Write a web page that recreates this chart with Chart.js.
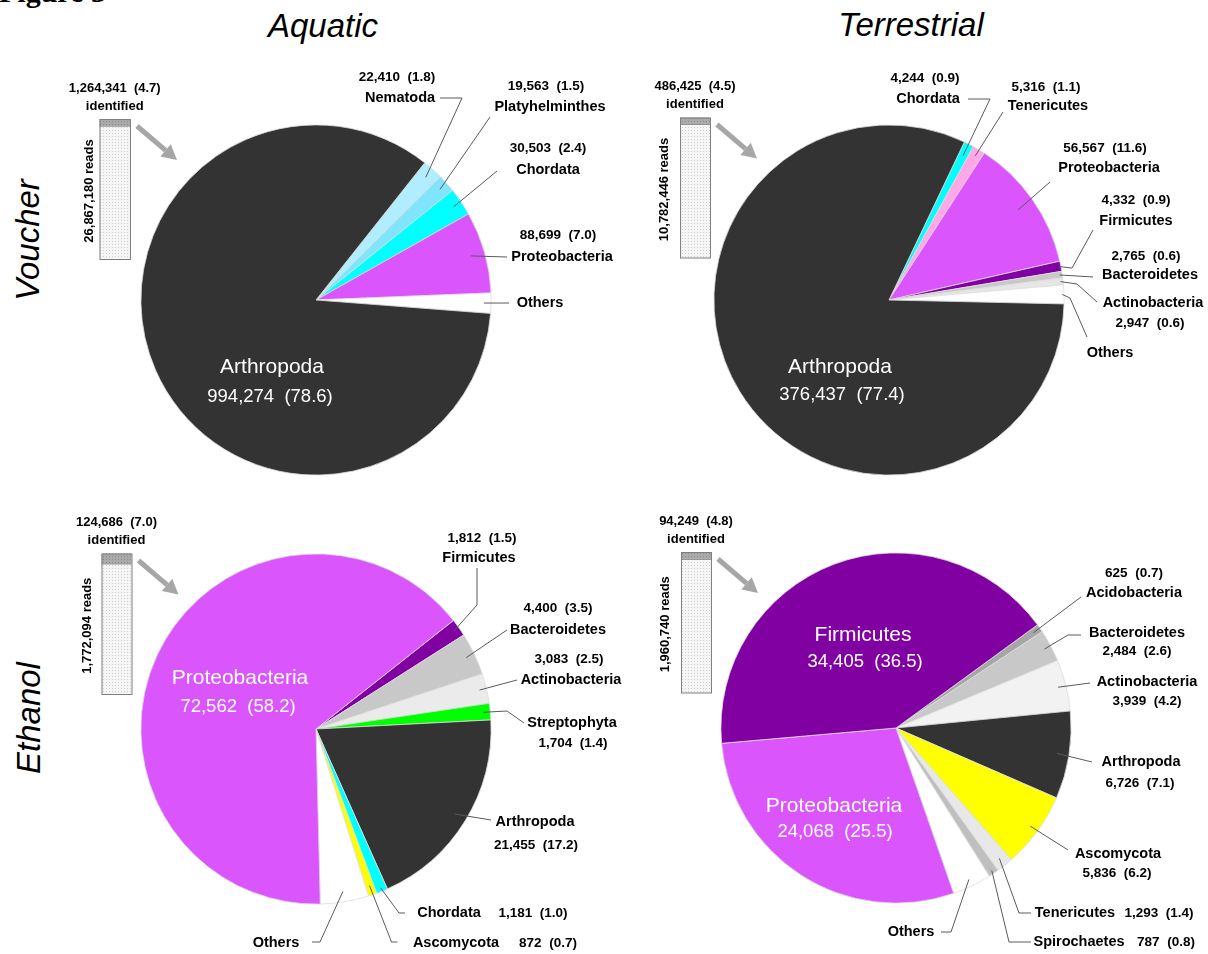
<!DOCTYPE html>
<html>
<head>
<meta charset="utf-8">
<title>Figure 3</title>
<script src="https://cdn.jsdelivr.net/npm/chart.js@4.4.1/dist/chart.umd.min.js"></script>
<style>
  html, body { margin: 0; padding: 0; background: #fff; }
  #fig { position: relative; width: 1208px; height: 954px; overflow: hidden; }
  #fig canvas { position: absolute; left: 0; top: 0; }
  .hdr {
    position: absolute;
    font-family: 'Liberation Sans', Arial, sans-serif;
    font-style: italic;
    font-size: 33px;
    line-height: 33px;
    color: #000;
    white-space: nowrap;
    transform: translate(-50%, -50%);
  }
  .hdr.rot { transform: translate(-50%, -50%) rotate(-90deg); }
  .fig-no {
    position: absolute; left: -1px; top: -23px;
    font-family: 'Liberation Serif', 'DejaVu Serif', serif;
    font-weight: bold; font-size: 30px; line-height: 30px;
  }
</style>
</head>
<body>
<div id="fig">
  <div class="fig-no">Figure 3</div>
  <div class="hdr" style="left:323px;top:25px">Aquatic</div>
  <div class="hdr" style="left:911px;top:24px">Terrestrial</div>
  <div class="hdr rot" style="left:27px;top:240px">Voucher</div>
  <div class="hdr rot" style="left:28px;top:718px">Ethanol</div>
  <canvas id="aqVoucher" width="1208" height="954"></canvas>
  <canvas id="teVoucher" width="1208" height="954"></canvas>
  <canvas id="aqEthanol" width="1208" height="954"></canvas>
  <canvas id="teEthanol" width="1208" height="954"></canvas>
</div>
<script>
// ---- data (reads per taxon, share of identified reads in %) ----
// "Others" is not printed in the figure; its size is estimated from the slice.
const aqVoucherTaxa = ['Nematoda', 'Platyhelminthes', 'Chordata', 'Proteobacteria', 'Others', 'Arthropoda'];
const aqVoucherReads = [22410, 19563, 30503, 88699, 22000, 994274];
const aqVoucherPct = ['1.8', '1.5', '2.4', '7.0', '', '78.6'];

const teVoucherTaxa = ['Chordata', 'Tenericutes', 'Proteobacteria', 'Firmicutes', 'Bacteroidetes', 'Actinobacteria', 'Others', 'Arthropoda'];
const teVoucherReads = [4244, 5316, 56567, 4332, 2765, 2947, 8000, 376437];
const teVoucherPct = ['0.9', '1.1', '11.6', '0.9', '0.6', '0.6', '', '77.4'];

const aqEthanolTaxa = ['Firmicutes', 'Bacteroidetes', 'Actinobacteria', 'Streptophyta', 'Arthropoda', 'Chordata', 'Ascomycota', 'Others', 'Proteobacteria'];
const aqEthanolReads = [1812, 4400, 3083, 1704, 21455, 1181, 872, 5000, 72562];
const aqEthanolPct = ['1.5', '3.5', '2.5', '1.4', '17.2', '1.0', '0.7', '', '58.2'];

const teEthanolTaxa = ['Acidobacteria', 'Bacteroidetes', 'Actinobacteria', 'Arthropoda', 'Ascomycota', 'Tenericutes', 'Spirochaetes', 'Others', 'Proteobacteria', 'Firmicutes'];
const teEthanolReads = [625, 2484, 3939, 6726, 5836, 1293, 787, 3000, 24068, 34405];
const teEthanolPct = ['0.7', '2.6', '4.2', '7.1', '6.2', '1.4', '0.8', '', '25.5', '36.5'];

// total reads per sample and how many of them were identified
const sampleTotalReads = [26867180, 10782446, 1772094, 1960740];
const sampleIdentifiedReads = [1264341, 486425, 124686, 94249];
const sampleIdentifiedPct = ['4.7', '4.5', '7.0', '4.8'];

// ---- colours ----
const aqVoucherColours = ['#b0eeff', '#80e4fb', '#00ffff', '#da55fb', '#ffffff', '#333333'];
const teVoucherColours = ['#00ffff', '#ffa8e6', '#da55fb', '#8000a2', '#c8c8c8', '#e6e6e6', '#ffffff', '#333333'];
const aqEthanolColours = ['#8000a2', '#c8c8c8', '#ebebeb', '#00ff00', '#333333', '#00ffff', '#ffff00', '#ffffff', '#da55fb'];
const teEthanolColours = ['#a6a6a6', '#c8c8c8', '#f2f2f2', '#333333', '#ffff00', '#e8e8e8', '#bfbfbf', '#ffffff', '#da55fb', '#8000a2'];

const FONT = "'Liberation Sans', Arial, sans-serif";
const W = 1208, H = 954;

function fmtCount(n, pct) {
    return n.toLocaleString('en-US') + '  (' + pct + ')';
}

function dotPattern(ctx, bg, dot) {
    const p = document.createElement('canvas');
    p.width = 3; p.height = 3;
    const pc = p.getContext('2d');
    pc.fillStyle = bg;
    pc.fillRect(0, 0, 3, 3);
    pc.fillStyle = dot;
    pc.fillRect(1, 1, 1, 1);
    return ctx.createPattern(p, 'repeat');
}

function drawSideBar(ctx, s, k) {
    const total = sampleTotalReads[k], ident = sampleIdentifiedReads[k];
    const {x, top, w, h} = s;
    const darkH = h * ident / total;

    ctx.fillStyle = dotPattern(ctx, '#f5f5f5', '#cfcfcf');
    ctx.fillRect(x, top, w, h);
    ctx.fillStyle = dotPattern(ctx, '#aaaaaa', '#8c8c8c');
    ctx.fillRect(x, top, w, darkH);
    ctx.strokeStyle = '#7f7f7f';
    ctx.lineWidth = 1;
    ctx.strokeRect(x + 0.5, top + 0.5, w, h);
    ctx.beginPath();
    ctx.moveTo(x, top + darkH + 0.5);
    ctx.lineTo(x + w, top + darkH + 0.5);
    ctx.stroke();

    ctx.fillStyle = '#000';
    ctx.textAlign = 'center';
    ctx.textBaseline = 'middle';
    ctx.font = 'bold 13px ' + FONT;
    ctx.fillText(fmtCount(ident, sampleIdentifiedPct[k]), x + w / 2, top - 31);
    ctx.fillText('identified', x + w / 2, top - 13);

    ctx.save();
    ctx.translate(s.readsX, top + h / 2 + 2);
    ctx.rotate(-Math.PI / 2);
    ctx.fillText(total.toLocaleString('en-US') + ' reads', 0, 0);
    ctx.restore();

    // grey arrow pointing at the pie
    const x0 = x + w + 7, y0 = top + 7, x1 = x + w + 47, y1 = top + 41;
    const a = Math.atan2(y1 - y0, x1 - x0);
    const hl = 15, hw = 8;
    const bx = x1 - Math.cos(a) * hl, by = y1 - Math.sin(a) * hl;
    ctx.strokeStyle = '#a6a6a6';
    ctx.lineWidth = 5;
    ctx.beginPath();
    ctx.moveTo(x0, y0);
    ctx.lineTo(bx, by);
    ctx.stroke();
    ctx.fillStyle = '#a6a6a6';
    ctx.beginPath();
    ctx.moveTo(x1, y1);
    ctx.lineTo(bx + Math.sin(a) * hw, by - Math.cos(a) * hw);
    ctx.lineTo(bx - Math.sin(a) * hw, by + Math.cos(a) * hw);
    ctx.closePath();
    ctx.fill();
}

// labels, leader lines and the side bar, drawn after the pie
const pieNotes = {
    id: 'pieNotes',
    afterDraw(chart, args, opts) {
        const ctx = chart.ctx;
        const arcs = chart.getDatasetMeta(0).data;
        const taxa = chart.data.labels;
        const reads = chart.data.datasets[0].data;
        ctx.save();

        opts.outside.forEach(l => {
            const i = taxa.indexOf(l.taxon);
            const arc = arcs[i].getProps(['x', 'y', 'startAngle', 'endAngle', 'outerRadius'], true);
            const mid = (arc.startAngle + arc.endAngle) / 2;
            const px = arc.x + Math.cos(mid) * arc.outerRadius * l.r;
            const py = arc.y + Math.sin(mid) * arc.outerRadius * l.r;
            ctx.strokeStyle = '#5a5a5a';
            ctx.lineWidth = 1;
            ctx.beginPath();
            ctx.moveTo(px, py);
            l.path.forEach(p => ctx.lineTo(p[0], p[1]));
            ctx.stroke();

            ctx.fillStyle = '#000';
            ctx.textAlign = 'center';
            ctx.textBaseline = 'middle';
            ctx.font = 'bold 14.5px ' + FONT;
            ctx.fillText(l.taxon, l.nameAt[0], l.nameAt[1]);
            if (l.countAt) {
                ctx.font = 'bold 13.5px ' + FONT;
                ctx.fillText(fmtCount(reads[i], opts.pct[i]), l.countAt[0], l.countAt[1]);
            }
        });

        opts.inside.forEach(l => {
            const i = taxa.indexOf(l.taxon);
            ctx.fillStyle = '#fff';
            ctx.textAlign = 'center';
            ctx.textBaseline = 'middle';
            ctx.font = '21px ' + FONT;
            ctx.fillText(l.taxon, l.nameAt[0], l.nameAt[1]);
            ctx.font = '18.5px ' + FONT;
            ctx.fillText(fmtCount(reads[i], opts.pct[i]), l.countAt[0], l.countAt[1]);
        });

        drawSideBar(ctx, opts.bar, opts.sample);
        ctx.restore();
    }
};

function makePie(id, taxa, reads, pct, colours, cx, cy, rotation, notes) {
    const R = 175.5;
    new Chart(document.getElementById(id), {
        type: 'pie',
        data: {
            labels: taxa,
            datasets: [{
                data: reads,
                backgroundColor: colours,
                borderColor: '#dcdcdc',
                borderWidth: 0.8
            }]
        },
        options: {
            responsive: false,
            animation: false,
            events: [],
            rotation: rotation,
            layout: {
                padding: { left: cx - R, top: cy - R, right: W - cx - R, bottom: H - cy - R }
            },
            plugins: {
                legend: { display: false },
                tooltip: { enabled: false },
                pieNotes: Object.assign({ pct: pct }, notes)
            }
        },
        plugins: [pieNotes]
    });
}

makePie('aqVoucher', aqVoucherTaxa, aqVoucherReads, aqVoucherPct, aqVoucherColours, 316, 300, 38.4, {
    sample: 0,
    bar: { x: 99.5, top: 119, w: 30.5, h: 140, readsX: 89.5 },
    outside: [
        { taxon: 'Nematoda', r: 0.94, countAt: [397, 77], nameAt: [400, 98], path: [[462, 98], [440, 98]] },
        { taxon: 'Platyhelminthes', r: 0.95, countAt: [546, 86], nameAt: [550, 107], path: [[490, 117]] },
        { taxon: 'Chordata', r: 0.95, countAt: [548, 148], nameAt: [548, 170], path: [[497, 171]] },
        { taxon: 'Proteobacteria', r: 0.92, countAt: [558, 235], nameAt: [562, 257], path: [[507, 257]] },
        { taxon: 'Others', r: 0.96, nameAt: [540, 303], path: [[509, 303]] }
    ],
    inside: [
        { taxon: 'Arthropoda', nameAt: [272, 367], countAt: [270, 397] }
    ]
});

makePie('teVoucher', teVoucherTaxa, teVoucherReads, teVoucherPct, teVoucherColours, 889, 300, 25.5, {
    sample: 1,
    bar: { x: 680, top: 117.5, w: 30, h: 140, readsX: 664 },
    outside: [
        { taxon: 'Chordata', r: 0.925, countAt: [925, 78], nameAt: [928, 99], path: [[990, 99], [968, 99]] },
        { taxon: 'Tenericutes', r: 0.96, countAt: [1046, 87], nameAt: [1048, 106], path: [[1003, 112]] },
        { taxon: 'Proteobacteria', r: 0.9, countAt: [1105, 148], nameAt: [1109, 168], path: [[1050, 182]] },
        { taxon: 'Firmicutes', r: 0.99, countAt: [1136, 200], nameAt: [1136, 221], path: [[1072, 268], [1093, 230]] },
        { taxon: 'Bacteroidetes', r: 0.985, countAt: [1146, 256], nameAt: [1150, 275], path: [[1093, 277]] },
        { taxon: 'Actinobacteria', r: 0.985, countAt: [1150, 323], nameAt: [1153, 303], path: [[1077, 284], [1097, 302]] },
        { taxon: 'Others', r: 0.99, nameAt: [1110, 353], path: [[1070, 298], [1087, 337]] }
    ],
    inside: [
        { taxon: 'Arthropoda', nameAt: [840, 367], countAt: [842, 395] }
    ]
});

makePie('aqEthanol', aqEthanolTaxa, aqEthanolReads, aqEthanolPct, aqEthanolColours, 316, 729, 51.7, {
    sample: 2,
    bar: { x: 101.5, top: 553.5, w: 30, h: 140.5, readsX: 87.5 },
    outside: [
        { taxon: 'Firmicutes', r: 0.965, countAt: [482, 538], nameAt: [479, 558], path: [[477, 605], [477, 568]] },
        { taxon: 'Bacteroidetes', r: 0.95, countAt: [558, 608], nameAt: [558, 630], path: [[507, 630]] },
        { taxon: 'Actinobacteria', r: 0.96, countAt: [569, 659], nameAt: [571, 680], path: [[517, 680]] },
        { taxon: 'Streptophyta', r: 0.96, countAt: [573, 743], nameAt: [572, 723], path: [[507, 711], [524, 723]] },
        { taxon: 'Arthropoda', r: 0.93, countAt: [536, 845], nameAt: [535, 822], path: [[491, 820]] },
        { taxon: 'Chordata', r: 0.98, countAt: [533, 913], nameAt: [449, 913], path: [[399, 913], [405, 913]] },
        { taxon: 'Ascomycota', r: 0.945, countAt: [548, 943], nameAt: [456, 943], path: [[391.5, 942], [397.5, 942]] },
        { taxon: 'Others', r: 0.94, nameAt: [276, 943], path: [[320, 942], [312, 942]] }
    ],
    inside: [
        { taxon: 'Proteobacteria', nameAt: [240, 678], countAt: [238, 707] }
    ]
});

makePie('teEthanol', teEthanolTaxa, teEthanolReads, teEthanolPct, teEthanolColours, 896, 728, 53.9, {
    sample: 3,
    bar: { x: 681, top: 552, w: 30, h: 140.5, readsX: 665.5 },
    outside: [
        { taxon: 'Acidobacteria', r: 0.955, countAt: [1134, 573], nameAt: [1134, 593], path: [[1081, 597]] },
        { taxon: 'Bacteroidetes', r: 0.96, countAt: [1137, 651], nameAt: [1137, 633], path: [[1068, 635], [1081, 635]] },
        { taxon: 'Actinobacteria', r: 0.955, countAt: [1147, 701], nameAt: [1147, 682], path: [[1090, 683]] },
        { taxon: 'Arthropoda', r: 0.93, countAt: [1140, 783], nameAt: [1141, 762], path: [[1092, 762]] },
        { taxon: 'Ascomycota', r: 0.95, countAt: [1117, 873], nameAt: [1118, 854], path: [[1068, 850]] },
        { taxon: 'Tenericutes', r: 0.95, countAt: [1159, 913], nameAt: [1075, 913], path: [[1019, 913], [1031, 913]] },
        { taxon: 'Spirochaetes', r: 0.98, countAt: [1166, 942], nameAt: [1079, 942], path: [[1009, 942], [1031, 942]] },
        { taxon: 'Others', r: 0.96, nameAt: [911, 932], path: [[951, 932], [941, 932]] }
    ],
    inside: [
        { taxon: 'Firmicutes', nameAt: [863, 635], countAt: [865, 662] },
        { taxon: 'Proteobacteria', nameAt: [834, 806], countAt: [835, 832] }
    ]
});
</script>
</body>
</html>
